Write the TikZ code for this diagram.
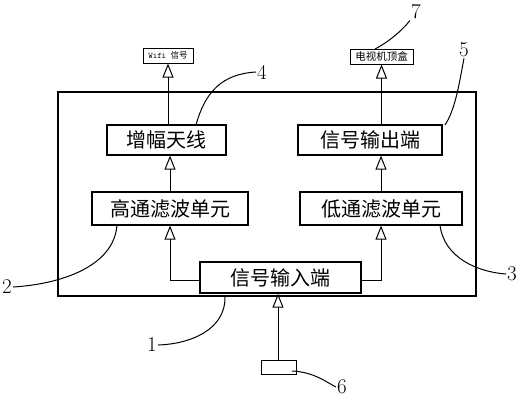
\documentclass[tikz,border=0pt]{standalone}
\usepackage{fontspec}
\newfontfamily\cjk{Noto Sans CJK SC}
\usetikzlibrary{arrows.meta}
\tikzset{
  box/.style={draw, line width=1.2pt, inner sep=0pt, font=\cjk\fontsize{20}{22}\selectfont},
  small/.style={draw, line width=1pt, inner sep=0pt, font=\cjk\fontsize{8.5}{10}\selectfont},
  arr/.style={line width=1pt, -{Triangle[open, length=14pt, width=11pt, line width=1pt]}},
  lead/.style={line width=1pt},
  num/.style={inner sep=1pt, font=\fontsize{21}{24}\selectfont}
}
\begin{document}
\begin{tikzpicture}[x=1pt,y=-1pt]
  \useasboundingbox (0,0) rectangle (521,400);
  % frame
  \node[draw, line width=1.2pt, minimum width=418pt, minimum height=204pt] (frame) at (267,194) {};
  % boxes
  \node[small, minimum width=50pt, minimum height=15pt] (wifi) at (168,55.5) {\ttfamily Wifi\ \cjk 信号};
  \node[small, minimum width=63pt, minimum height=15pt, font=\cjk\fontsize{10.5}{12}\selectfont] (tv) at (381.5,56.5) {电视机顶盒};
  \node[box, minimum width=119pt, minimum height=30pt] (amp) at (166.5,140) {增幅天线};
  \node[box, minimum width=144pt, minimum height=30pt] (out) at (370,140) {信号输出端};
  \node[box, minimum width=156pt, minimum height=33pt] (hp) at (170,208.5) {高通滤波单元};
  \node[box, minimum width=162pt, minimum height=33pt] (lp) at (381,208.5) {低通滤波单元};
  \node[box, minimum width=161pt, minimum height=31pt] (in) at (280.5,277.5) {信号输入端};
  \node[draw, line width=1pt, minimum width=35pt, minimum height=14pt] (src) at (278.5,367) {};
  % arrows
  \draw[arr] (src.north -| 278,0) -- (in.south -| 278,0);
  \draw[arr] ([yshift=-3pt]in.west) -| (hp.south);
  \draw[arr] ([yshift=-3pt]in.east) -| (lp.south);
  \draw[arr] (hp.north) -- (amp.south -| hp.north);
  \draw[arr] (lp.north) -- (out.south -| lp.north);
  \draw[arr] (amp.north -| wifi.south) -- (wifi.south);
  \draw[arr] (out.north -| tv.south) -- (tv.south);
  % labels
  \node[num] (n4) at (262,72) {4};
  \node[num] (n7) at (416,12) {7};
  \node[num] (n5) at (464,50) {5};
  \node[num] (n2) at (7,287) {2};
  \node[num] (n3) at (512,274) {3};
  \node[num] (n1) at (152,345) {1};
  \node[num] (n6) at (342,387) {6};
  \draw[lead] (196,125) .. controls (205,92) and (222,74) .. (n4.west);
  \draw[lead] (375,49) .. controls (392,40) and (404,28) .. (n7.south west);
  \draw[lead] (445,125) .. controls (455,110) and (459,85) .. (n5.south);
  \draw[lead] (117,225) .. controls (114,266) and (62,284) .. (n2.east);
  \draw[lead] (225,296) .. controls (226,330) and (190,344) .. (n1.east);
  \draw[lead] (440,225) .. controls (444,258) and (478,272) .. (n3.west);
  \draw[lead] (292,371) .. controls (314,372) and (326,382) .. (n6.west);
\end{tikzpicture}
\end{document}
